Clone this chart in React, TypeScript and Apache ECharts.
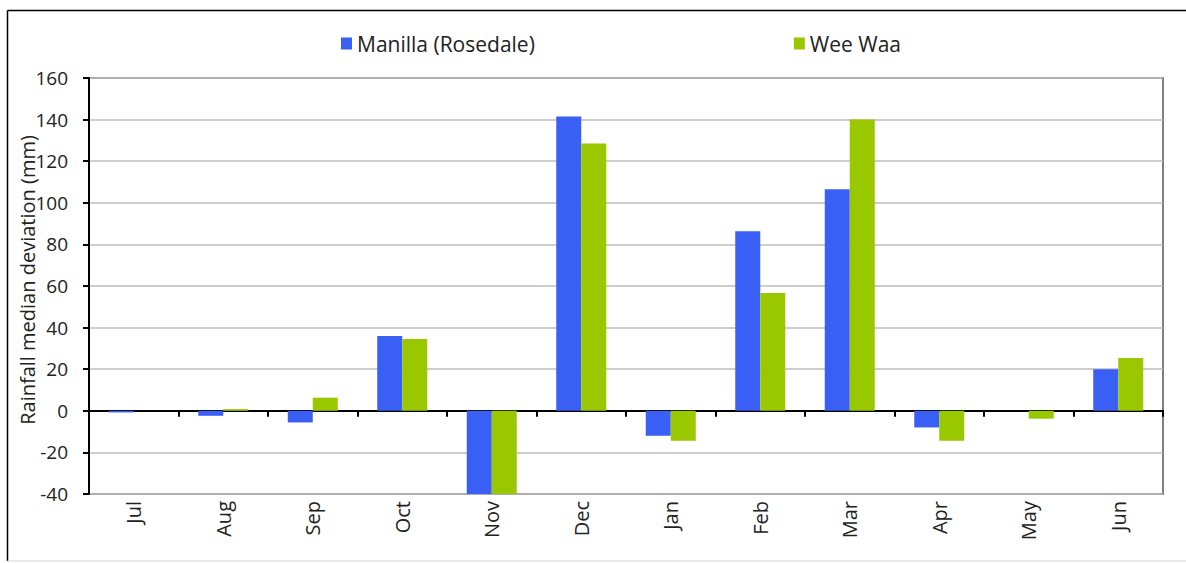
import React, { useEffect, useRef } from "react";
import * as echarts from "echarts";

const months = ["Jul", "Aug", "Sep", "Oct", "Nov", "Dec", "Jan", "Feb", "Mar", "Apr", "May", "Jun"];
const manilla = [-0.8, -2.4, -5.6, 36, -45, 141.5, -12, 86.3, 106.5, -8, 0, 20];
const weeWaa = [0, 0.8, 6.3, 34.5, -45, 128.5, -14.4, 56.6, 140, -14.4, -3.8, 25.4];
const seriesNames = ["Manilla (Rosedale)", "Wee Waa"];
const yTitle = "Rainfall median deviation (mm)";

const FONT = "'Open Sans', sans-serif";

export default function App() {
  const ref = useRef<HTMLDivElement>(null);
  useEffect(() => {
    if (!ref.current) return;
    const chart = echarts.init(ref.current, null, { renderer: "svg" });
    chart.setOption({
      animation: false,
      backgroundColor: "#ffffff",
      textStyle: { fontFamily: FONT },
      legend: {
        data: seriesNames,
        left: 336,
        top: 28,
        itemGap: 259,
        itemWidth: 11,
        itemHeight: 12,
        icon: "rect",
        textStyle: { fontFamily: FONT, fontSize: 21, color: "#222" },
      },
      grid: {
        left: 89,
        right: 23,
        top: 78,
        bottom: 69,
        containLabel: false,
        outerBoundsMode: "none",
        show: true,
        borderColor: "#7f7f7f",
        borderWidth: 2,
        backgroundColor: "transparent",
      },
      xAxis: [
        {
          type: "category",
          data: months,
          position: "bottom",
          axisLine: { show: false, onZero: false },
          axisTick: { show: false },
          axisLabel: {
            rotate: 90,
            margin: 7,
            fontFamily: FONT,
            fontSize: 20,
            color: "#222",
          },
        },
        {
          type: "category",
          data: months,
          position: "bottom",
          axisLine: { show: true, onZero: true, lineStyle: { color: "#000", width: 2 } },
          axisTick: { show: true, length: 6, lineStyle: { color: "#000", width: 2 } },
          axisLabel: { show: false },
        },
      ],
      yAxis: {
        type: "value",
        min: -40,
        max: 160,
        interval: 20,
        axisLine: { show: true, lineStyle: { color: "#000", width: 2 } },
        axisTick: { show: true, length: 6, lineStyle: { color: "#000", width: 2 } },
        axisLabel: { fontFamily: FONT, fontSize: 19, color: "#222", margin: 21 },
        splitLine: { show: true, lineStyle: { color: "#bdbdbd", width: 1.5 } },
      },
      series: [
        {
          name: seriesNames[0],
          type: "bar",
          data: manilla,
          xAxisIndex: 0,
          barWidth: 25,
          barGap: "0%",
          itemStyle: { color: "#3a5ff5" },
        },
        {
          name: seriesNames[1],
          type: "bar",
          data: weeWaa,
          xAxisIndex: 0,
          barWidth: 25,
          barGap: "0%",
          itemStyle: { color: "#99c800" },
        },
      ],
      graphic: [
        { type: "line", shape: { x1: 7.5, y1: 10.5, x2: 1186, y2: 10.5 }, style: { stroke: "#000", lineWidth: 1.5 } },
        { type: "line", shape: { x1: 7.5, y1: 10.5, x2: 7.5, y2: 561 }, style: { stroke: "#000", lineWidth: 1.5 } },
        { type: "line", shape: { x1: 7.5, y1: 561, x2: 1186, y2: 561 }, style: { stroke: "#d0d0d0", lineWidth: 1 } },
        {
          type: "text",
          x: 27,
          y: 280,
          rotation: Math.PI / 2,
          z: 10,
          style: {
            text: yTitle,
            fontFamily: FONT,
            fontSize: 20,
            fill: "#222",
            align: "center",
            verticalAlign: "middle",
          },
        },
      ],
    });
    return () => chart.dispose();
  }, []);
  return (
    <div
      ref={ref}
      style={{ position: "absolute", left: 0, top: 0, width: 1186, height: 563 }}
    />
  );
}
